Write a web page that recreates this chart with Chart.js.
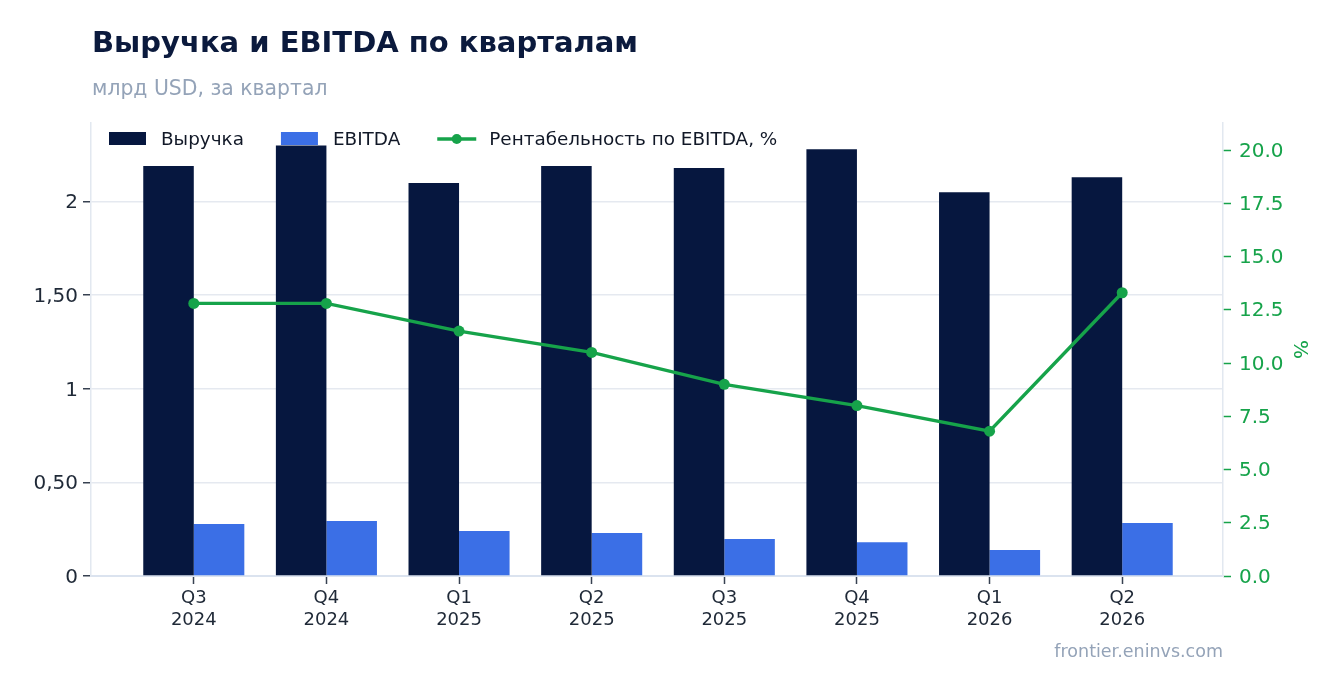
<!DOCTYPE html>
<html>
<head>
<meta charset="utf-8">
<script src="https://cdn.jsdelivr.net/npm/chart.js@4"></script>
<style>
  html, body { margin: 0; padding: 0; background: #ffffff; }
  body { width: 1343px; height: 693px; position: relative; overflow: hidden; font-family: "DejaVu Sans", sans-serif; }
  #wrap { position: absolute; left: 0; top: 0; width: 1343px; height: 693px; }
  .title { position: absolute; left: 92px; top: 25px; font-size: 29px; font-weight: bold; color: #0b1a3d; }
  .subtitle { position: absolute; left: 92px; top: 76px; font-size: 20.4px; color: #94a3b8; }
  .footer { position: absolute; right: 120px; top: 641px; font-size: 17.5px; color: #94a3b8; }
</style>
</head>
<body>
<div id="wrap"><canvas id="chart"></canvas></div>
<div class="title">Выручка и EBITDA по кварталам</div>
<div class="subtitle">млрд USD, за квартал</div>
<div class="footer">frontier.eninvs.com</div>
<script>
const quarters = [["Q3", "2024"], ["Q4", "2024"], ["Q1", "2025"], ["Q2", "2025"], ["Q3", "2025"], ["Q4", "2025"], ["Q1", "2026"], ["Q2", "2026"]];
const revenue = [2.19, 2.30, 2.10, 2.19, 2.18, 2.28, 2.05, 2.13];
const ebitda = [0.278, 0.294, 0.240, 0.230, 0.198, 0.180, 0.139, 0.283];
const margin = [12.8, 12.8, 11.5, 10.5, 9.0, 8.0, 6.8, 13.3];
const leftTicks = [0, 0.5, 1, 1.5, 2];
const rightTicks = [0, 2.5, 5, 7.5, 10, 12.5, 15, 17.5, 20];

const NAVY = "#06173f";
const BLUE = "#3b6fe6";
const GREEN = "#16a34a";
const FONT = "'DejaVu Sans', sans-serif";

// points on a numeric x axis so the categories can keep the side margins
const toPoints = arr => arr.map((v, i) => ({ x: i, y: v }));

// legend drawn inside the plot, top left
const insideLegend = {
    id: "insideLegend",
    afterDraw(chart) {
        const ctx = chart.ctx;
        const area = chart.chartArea;
        const cy = area.top + 16;
        let x = area.left + 18;
        ctx.save();
        ctx.font = "18.4px " + FONT;
        ctx.textBaseline = "middle";
        ctx.textAlign = "left";
        chart.data.datasets.forEach(ds => {
            if (ds.type === "line") {
                ctx.strokeStyle = ds.borderColor;
                ctx.lineWidth = 3.5;
                ctx.beginPath();
                ctx.moveTo(x, cy);
                ctx.lineTo(x + 39, cy);
                ctx.stroke();
                ctx.fillStyle = ds.borderColor;
                ctx.beginPath();
                ctx.arc(x + 19.5, cy, 5, 0, Math.PI * 2);
                ctx.fill();
                x += 39 + 13;
            } else {
                ctx.fillStyle = ds.backgroundColor;
                ctx.fillRect(x, cy - 7, 37, 13);
                x += 37 + 15;
            }
            ctx.fillStyle = "#111827";
            ctx.fillText(ds.label, x, cy + 1);
            x += ctx.measureText(ds.label).width + 37;
        });
        ctx.restore();
    }
};

Chart.defaults.font.family = FONT;
Chart.defaults.color = "#1f2937";

new Chart(document.getElementById("chart").getContext("2d"), {
    data: {
        datasets: [
            {
                type: "bar",
                label: "Выручка",
                data: toPoints(revenue),
                yAxisID: "y",
                backgroundColor: NAVY,
                categoryPercentage: 0.762,
                barPercentage: 1.0,
                order: 1
            },
            {
                type: "bar",
                label: "EBITDA",
                data: toPoints(ebitda),
                yAxisID: "y",
                backgroundColor: BLUE,
                categoryPercentage: 0.762,
                barPercentage: 1.0,
                order: 1
            },
            {
                type: "line",
                label: "Рентабельность по EBITDA, %",
                data: toPoints(margin),
                yAxisID: "y1",
                borderColor: GREEN,
                backgroundColor: GREEN,
                borderWidth: 3.4,
                pointRadius: 5.5,
                pointBackgroundColor: GREEN,
                pointBorderWidth: 0,
                tension: 0,
                order: 0
            }
        ]
    },
    options: {
        responsive: true,
        maintainAspectRatio: false,
        animation: false,
        layout: { padding: { top: 123, left: 0, right: 28, bottom: 0 } },
        plugins: {
            legend: { display: false },
            title: { display: false },
            tooltip: { enabled: false }
        },
        scales: {
            x: {
                type: "linear",
                offset: false,
                min: -0.775,
                max: 7.76,
                afterBuildTicks(scale) { scale.ticks = quarters.map((q, i) => ({ value: i })); },
                grid: { offset: false, drawOnChartArea: false, tickLength: 8, tickColor: "#374151", tickWidth: 1.5 },
                border: { color: "#dbe3ef", width: 2 },
                ticks: {
                    color: "#1f2937",
                    font: { size: 18, lineHeight: 1.22 },
                    padding: 3,
                    maxRotation: 0,
                    autoSkip: false,
                    callback: v => quarters[v]
                },
                afterFit(scale) { scale.height = 693 - 576; }
            },
            y: {
                position: "left",
                min: 0,
                max: 2.42,
                afterBuildTicks(scale) { scale.ticks = leftTicks.map(v => ({ value: v })); },
                grid: { color: "#e5e9f0", lineWidth: 1.5, tickLength: 8, tickColor: "#374151", tickWidth: 1.5 },
                border: { color: "#e2e8f0", width: 1.5 },
                ticks: {
                    color: "#1f2937",
                    font: { size: 20 },
                    padding: 5,
                    labelOffset: 1.5,
                    callback: v => Number.isInteger(v) ? String(v) : v.toFixed(2).replace(".", ",")
                },
                afterFit(scale) { scale.width = 91; }
            },
            y1: {
                position: "right",
                min: 0,
                max: 21.27,
                afterBuildTicks(scale) { scale.ticks = rightTicks.map(v => ({ value: v })); },
                grid: { drawOnChartArea: false, tickLength: 8, tickColor: GREEN, tickWidth: 1.5 },
                border: { color: "#e2e8f0", width: 1.5 },
                ticks: { color: GREEN, font: { size: 20 }, padding: 8, labelOffset: 1.5, callback: v => v.toFixed(1) },
                title: { display: true, text: "%", color: GREEN, font: { size: 20 }, padding: 4 },
                afterFit(scale) { scale.width = 92; }
            }
        }
    },
    plugins: [insideLegend]
});
</script>
</body>
</html>
